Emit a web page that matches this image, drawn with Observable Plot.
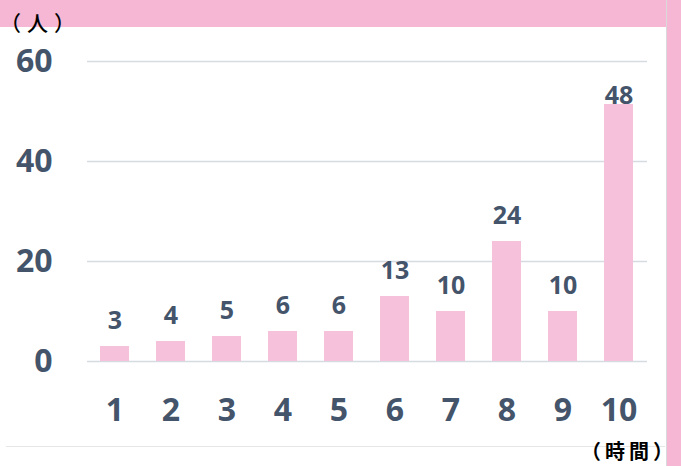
<!DOCTYPE html>
<html>
<head>
<meta charset="utf-8">
<script src="https://cdn.jsdelivr.net/npm/d3@7"></script>
<script src="https://cdn.jsdelivr.net/npm/@observablehq/plot@0.6"></script>
<style>
  html, body { margin: 0; padding: 0; background: #fff; }
  #wrap { position: relative; width: 681px; height: 466px; overflow: hidden; background: #fff; }
  #topband { position: absolute; left: 0; top: 0; width: 681px; height: 27px; background: #f5b7d3; }
  #rightband { position: absolute; left: 666px; top: 0; width: 15px; height: 466px; background: #f5b7d3; border-left: 1px solid #d9d9d9; box-sizing: border-box; }
  #bottomline { position: absolute; left: 6px; top: 446px; width: 659px; height: 1px; background: #e6e6e6; }
  #chart { position: absolute; left: 0; top: 0; }
  .unit { position: absolute; font-family: "Noto Sans CJK JP", sans-serif; color: #000; white-space: nowrap; }
  #yunit { left: 0px; top: 7px; font-size: 21px; line-height: 30px; font-weight: 500; letter-spacing: 6px; }
  #xunit { left: 581px; top: 436px; font-size: 20px; line-height: 30px; font-weight: 700; letter-spacing: 4px; }
</style>
</head>
<body>
<div id="wrap">
  <div id="topband"></div>
  <div id="rightband"></div>
  <div id="bottomline"></div>
  <div id="chart"></div>
  <div class="unit" id="yunit">（人）</div>
  <div class="unit" id="xunit">（時間）</div>
</div>
<script>
const hours = ["1","2","3","4","5","6","7","8","9","10"];
const barHeights = [3, 4, 5, 6, 6, 13, 10, 24, 10, 51.4];
const labelValues = [3, 4, 5, 6, 6, 13, 10, 24, 10, 48];
const yTicks = [0, 20, 40, 60];

const bars = hours.map((h, i) => ({hour: h, height: barHeights[i], label: labelValues[i]}));

const textColor = "#44546a";

const chart = Plot.plot({
  width: 681,
  height: 466,
  marginLeft: 87,
  marginRight: 34,
  marginTop: 61,
  marginBottom: 105,
  style: {background: "transparent", fontFamily: "'Open Sans', sans-serif", fontWeight: "bold"},
  x: {domain: hours, paddingInner: 0.48, paddingOuter: 0.24, label: null},
  y: {domain: [0, 60], label: null},
  marks: [
    Plot.gridY(yTicks, {stroke: "#d6dbe2", strokeOpacity: 1, strokeWidth: 1.5}),
    Plot.barY(bars, {x: "hour", y: "height", fill: "#f6c1da"}),
    Plot.text(bars, {x: "hour", y: "label", text: d => String(d.label), dy: -26, fill: textColor, fontSize: 25, fontWeight: "bold"}),
    Plot.axisY(yTicks, {tickSize: 0, tickPadding: 35, fontSize: 32, fill: textColor, fontWeight: "bold", label: null}),
    Plot.axisX({tickSize: 0, tickPadding: 37, fontSize: 32, fill: textColor, fontWeight: "bold", label: null})
  ]
});
document.getElementById("chart").appendChild(chart);
</script>
</body>
</html>
